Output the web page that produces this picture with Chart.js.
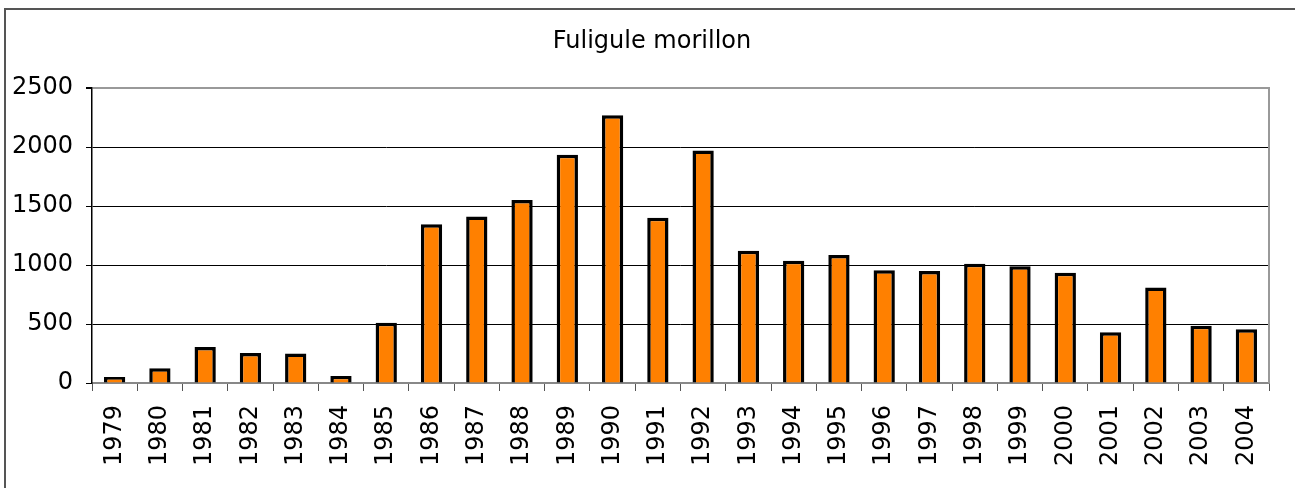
<!DOCTYPE html>
<html>
<head>
<meta charset="utf-8">
<script src="https://cdn.jsdelivr.net/npm/chart.js@4"></script>
<style>
  body { margin: 0; background: #fff; }
  #wrap { position: relative; width: 1295px; height: 488px; overflow: hidden; }
</style>
</head>
<body>
<div id="wrap"><canvas id="chart" width="1295" height="488"></canvas></div>
<script>
// data
var years = ["1979", "1980", "1981", "1982", "1983", "1984", "1985", "1986", "1987", "1988",
  "1989", "1990", "1991", "1992", "1993", "1994", "1995", "1996", "1997", "1998",
  "1999", "2000", "2001", "2002", "2003", "2004"];
var counts = [50, 125, 305, 255, 250, 60, 510, 1345, 1410, 1550,
  1935, 2270, 1400, 1970, 1120, 1035, 1085, 955, 950, 1010,
  990, 935, 430, 810, 485, 455];
var yTicks = [0, 500, 1000, 1500, 2000, 2500];
var titre = 'Fuligule morillon';

var orange = '#ff8000';
var noir = '#000000';
var gris = '#999999';

// outer frame, title and right border of plot area
var frame = {
  id: 'frame',
  afterDraw: function (chart) {
    var c = chart.ctx;
    var a = chart.chartArea;
    c.save();
    c.strokeStyle = gris;
    c.lineWidth = 2;
    c.beginPath();
    c.moveTo(a.right, a.top - 1);
    c.lineTo(a.right, a.bottom);
    c.stroke();
    c.strokeStyle = '#555555';
    c.beginPath();
    c.moveTo(5, chart.height);
    c.lineTo(5, 9);
    c.lineTo(chart.width, 9);
    c.stroke();
    c.fillStyle = noir;
    c.font = '24px "DejaVu Sans"';
    c.textAlign = 'center';
    c.textBaseline = 'alphabetic';
    c.fillText(titre, 652, 48);
    c.restore();
  }
};

var ctx = document.getElementById("chart").getContext('2d');
var myChart = new Chart(ctx, {
  type: 'bar',
  data: {
    labels: years,
    datasets: [{
      label: titre,
      data: counts,
      backgroundColor: orange,
      borderColor: noir,
      borderWidth: 3.5,
      barPercentage: 0.47,
      categoryPercentage: 1
    }]
  },
  options: {
    responsive: false,
    animation: false,
    layout: { padding: { left: 0, right: 26, top: 88, bottom: 0 } },
    plugins: {
      legend: { display: false },
      tooltip: { enabled: false },
      title: { display: false }
    },
    scales: {
      x: {
        grid: {
          display: true,
          drawOnChartArea: false,
          drawTicks: true,
          tickLength: 8,
          tickColor: '#555555',
          offset: true
        },
        border: { display: true, color: '#888888', width: 2 },
        ticks: {
          color: noir,
          font: { family: 'DejaVu Sans', size: 24 },
          minRotation: 90,
          maxRotation: 90,
          padding: 14,
          autoSkip: false
        },
        afterFit: function (scale) { scale.height = 105; }
      },
      y: {
        min: 0,
        max: 2500,
        afterBuildTicks: function (scale) {
          scale.ticks = yTicks.map(function (v) { return { value: v }; });
        },
        grid: {
          color: function (c) {
            if (c.tick && (c.tick.value === 2500 || c.tick.value === 0)) return gris;
            return noir;
          },
          lineWidth: function (c) {
            return (c.tick && c.tick.value === 2500) ? 2 : 1;
          },
          tickColor: noir,
          tickLength: 6,
          drawTicks: true
        },
        border: { display: true, color: noir, width: 1.5 },
        ticks: {
          color: noir,
          font: { family: 'DejaVu Sans', size: 24 },
          padding: 13,
          callback: function (v) { return String(v); }
        },
        afterFit: function (scale) { scale.width = 92; }
      }
    }
  },
  plugins: [frame]
});
</script>
</body>
</html>
